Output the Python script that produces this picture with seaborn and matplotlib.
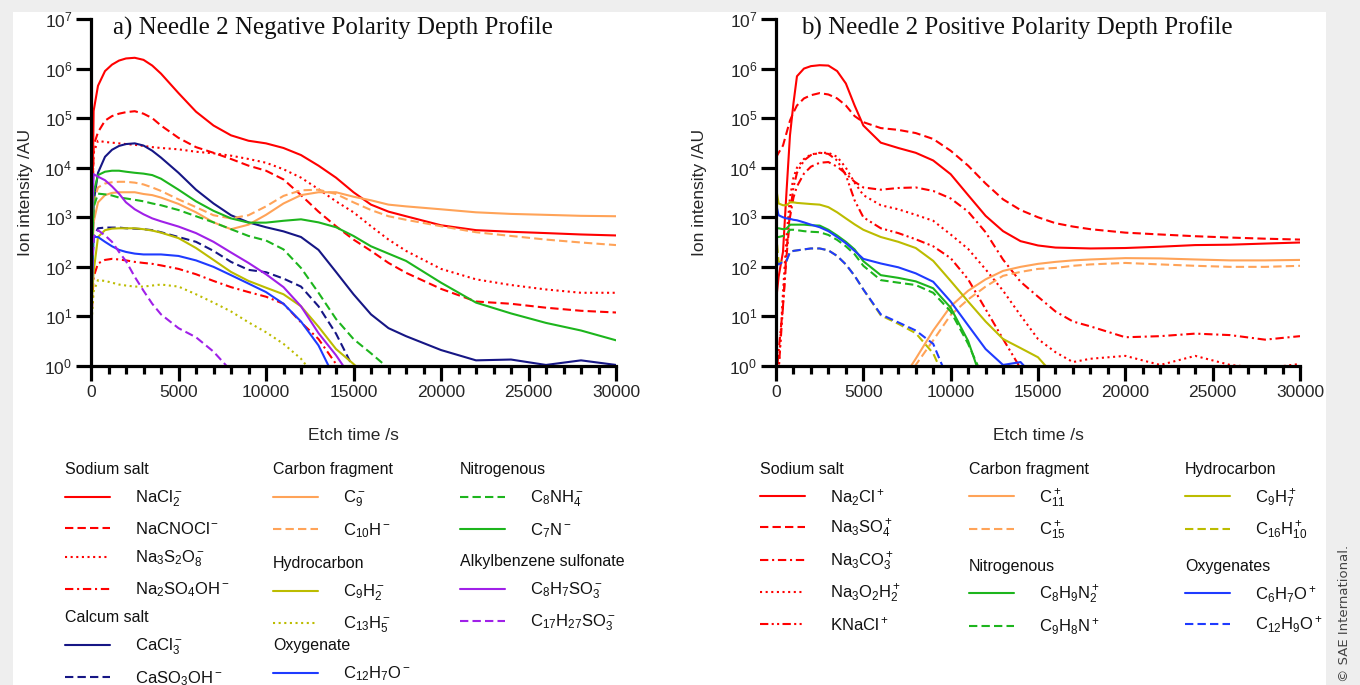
"""
Needle 2 ToF-SIMS depth profiles (negative / positive polarity).
"""
import numpy as np
import matplotlib
matplotlib.use("Agg")
import matplotlib.pyplot as plt
from matplotlib.patches import Rectangle
from matplotlib.ticker import MultipleLocator, NullLocator, LogLocator
import seaborn as sns

nan = np.nan

# ---------------- negative polarity (panel a) ----------------
T_NEG = [0, 150, 400, 800, 1200, 1600, 2000, 2500, 3000, 3500, 4000, 5000, 6000, 7000,
         8000, 9000, 10000, 11000, 12000, 13000, 14000, 15000, 16000, 17000, 18000,
         20000, 22000, 24000, 26000, 28000, 30000]

NACL2_NEG = [5, 1.4e5, 4.5e5, 8.9e5, 1.2e6, 1.45e6, 1.6e6, 1.65e6, 1.5e6, 1.15e6, 7.9e5,
             3.2e5, 1.35e5, 7.1e4, 4.5e4, 3.5e4, 3.1e4, 2.5e4, 1.8e4, 1.1e4, 6.3e3,
             3.2e3, 1.8e3, 1.3e3, 1.05e3, 690, 550, 510, 480, 450, 430]
NACNOCL_NEG = [10, 2.8e4, 5.2e4, 8.9e4, 1.1e5, 1.23e5, 1.32e5, 1.38e5, 1.23e5, 1.0e5, 7.1e4,
               4.0e4, 2.6e4, 2.0e4, 1.5e4, 1.1e4, 8.7e3, 5.8e3, 2.8e3, 1.3e3, 660,
               355, 210, 120, 76, 36, 20, 18, 15, 13, 12]
NA3S2O8_NEG = [300, 2.0e4, 3.5e4, 3.3e4, 3.2e4, 3.1e4, 3.0e4, 2.9e4, 2.75e4, 2.6e4, 2.5e4,
               2.35e4, 2.1e4, 1.95e4, 1.75e4, 1.5e4, 1.26e4, 9.3e3, 6.3e3, 3.7e3, 2.1e3,
               1.26e3, 660, 355, 210, 91, 56, 43, 35, 30, 30]
NA2SO4OH_NEG = [6, 63, 117, 138, 145, 141, 135, 126, 120, 115, 107,
                91, 71, 52, 39, 31, 25, 18, 7.6, 3.5, 1.1,
                0.3, nan, nan, nan, nan, nan, nan, nan, nan, nan]
CACL3_NEG = [6, 2.0e3, 7.9e3, 1.66e4, 2.3e4, 2.75e4, 3.0e4, 3.1e4, 2.8e4, 2.2e4, 1.6e4,
             7.9e3, 3.6e3, 1.9e3, 1.1e3, 790, 630, 520, 400, 220, 79,
             28, 11, 5.8, 4.0, 2.1, 1.3, 1.35, 1.05, 1.3, 1.05]
CASO3OH_NEG = [30, 400, 600, 620, 620, 620, 600, 590, 575, 550, 500,
               400, 320, 210, 126, 87, 78, 58, 40, 16, 4.5,
               0.9, nan, nan, nan, nan, nan, nan, nan, nan, nan]
C9_NEG = [30, 800, 2.0e3, 2.8e3, 3.1e3, 3.2e3, 3.2e3, 3.2e3, 2.95e3, 2.8e3, 2.5e3,
          1.86e3, 1.26e3, 790, 575, 710, 1.12e3, 1.9e3, 2.8e3, 3.2e3, 3.2e3,
          2.6e3, 2.2e3, 1.8e3, 1.66e3, 1.45e3, 1.26e3, 1.17e3, 1.12e3, 1.07e3, 1.05e3]
C10H_NEG = [100, 2.0e3, 4.0e3, 4.8e3, 5.1e3, 5.2e3, 5.2e3, 5.0e3, 4.6e3, 4.0e3, 3.4e3,
            2.3e3, 1.6e3, 1.1e3, 950, 1.1e3, 1.66e3, 2.7e3, 3.5e3, 3.6e3, 2.95e3,
            2.0e3, 1.4e3, 1.05e3, 890, 660, 500, 420, 355, 310, 275]
C9H2_NEG = [10, 80, 400, 550, 590, 600, 600, 600, 575, 540, 490,
            380, 240, 138, 79, 52, 38, 28, 16, 6.2, 2.2,
            1.1, 0.5, nan, nan, nan, nan, nan, nan, nan, nan]
C13H5_NEG = [5, 32, 54, 52, 48, 44, 42, 40, 40, 42, 44,
             40, 28, 19, 12.6, 7.6, 4.8, 2.8, 1.4, 0.5, nan,
             nan, nan, nan, nan, nan, nan, nan, nan, nan, nan]
C12H7O_NEG = [10, 400, 400, 320, 260, 220, 200, 185, 178, 178, 178,
              166, 135, 100, 68, 46, 31, 18, 7.9, 2.6, 0.5,
              nan, nan, nan, nan, nan, nan, nan, nan, nan, nan]
C8NH4_NEG = [30, 1.6e3, 3.0e3, 2.9e3, 2.75e3, 2.5e3, 2.4e3, 2.25e3, 2.1e3, 1.9e3, 1.75e3,
             1.4e3, 1.05e3, 790, 575, 420, 340, 225, 95, 30, 8.9,
             3.5, 1.8, 0.9, nan, nan, nan, nan, nan, nan, nan]
C7N_NEG = [10, 3.2e3, 7.1e3, 8.3e3, 8.7e3, 8.7e3, 8.3e3, 7.9e3, 7.6e3, 7.1e3, 6.0e3,
           3.6e3, 2.1e3, 1.35e3, 950, 780, 780, 850, 910, 790, 630,
           420, 260, 185, 132, 48, 19, 11.5, 7.4, 5.2, 3.3]
C8H7SO3_NEG = [300, 7.4e3, 6.6e3, 5.6e3, 4.2e3, 3.0e3, 2.0e3, 1.45e3, 1.15e3, 950, 830,
               650, 480, 320, 195, 120, 71, 39, 16, 4.6, 1.65,
               0.5, nan, nan, nan, nan, nan, nan, nan, nan, nan]
C17H27SO3_NEG = [30, 400, 550, 430, 320, 200, 130, 63, 33, 18, 11,
                 5.8, 3.8, 1.95, 0.8, nan, nan, nan, nan, nan, nan,
                 nan, nan, nan, nan, nan, nan, nan, nan, nan, nan]

# ---------------- positive polarity (panel b) ----------------
T_POS = [0, 150, 400, 600, 800, 1000, 1200, 1600, 2000, 2500, 3000, 3500, 4000, 4500,
         5000, 6000, 7000, 8000, 9000, 10000, 11000, 12000, 13000, 14000, 15000, 16000,
         17000, 18000, 20000, 22000, 24000, 26000, 28000, 30000]

NA2CL_POS = [20, 63, 200, 3.2e3, 4.5e4, 2.0e5, 7.0e5, 1.0e6, 1.12e6, 1.17e6, 1.15e6, 8.9e5,
             5.0e5, 1.8e5, 7.1e4, 3.2e4, 2.5e4, 2.0e4, 1.4e4, 7.4e3, 2.8e3, 1.07e3,
             525, 330, 270, 245, 240, 235, 240, 255, 275, 280, 295, 310]
NA3SO4_POS = [1.6e4, 2.0e4, 2.8e4, 5.0e4, 8.9e4, 1.3e5, 1.8e5, 2.5e5, 2.9e5, 3.2e5, 3.0e5,
              2.5e5, 1.8e5, 1.1e5, 8.3e4, 6.3e4, 5.8e4, 5.0e4, 3.8e4, 2.2e4, 1.1e4,
              4.8e3, 2.3e3, 1.4e3, 1.0e3, 760, 650, 575, 490, 450, 415, 390, 370, 355]
NA3CO3_POS = [0.5, 2, 16, 160, 1.0e3, 2.5e3, 4.2e3, 7.6e3, 1.05e4, 1.26e4, 1.3e4, 1.05e4,
              7.6e3, 5.2e3, 4.0e3, 3.6e3, 3.9e3, 4.0e3, 3.4e3, 2.4e3, 1.3e3, 500,
              140, 50, 25, 12.6, 7.9, 6.3, 3.8, 4.0, 4.5, 4.2, 3.4, 4.0]
NA3O2H2_POS = [0.5, 0.8, 30, 400, 2.5e3, 6.3e3, 1.0e4, 1.5e4, 1.85e4, 2.0e4, 2.0e4, 1.66e4,
               1.0e4, 5.0e3, 2.8e3, 1.75e3, 1.45e3, 1.12e3, 850, 450, 230, 89,
               33, 10.5, 3.5, 1.9, 1.2, 1.4, 1.6, 1.05, 1.6, 1.05, 0.9, 1.1]
KNACL_POS = [0.5, 0.8, 16, 200, 1.26e3, 4.0e3, 7.9e3, 1.4e4, 1.8e4, 2.0e4, 1.9e4, 1.4e4,
             7.1e3, 2.2e3, 1.0e3, 600, 480, 360, 260, 150, 56, 14,
             3.5, 0.9, nan, nan, nan, nan, nan, nan, nan, nan, nan, nan]
C11_POS = [nan, nan, nan, nan, nan, nan, nan, nan, nan, nan, nan, nan,
           nan, nan, nan, nan, 0.4, 1.4, 5.2, 16, 33, 56,
           83, 100, 115, 126, 135, 141, 150, 148, 141, 135, 135, 138]
C15_POS = [nan, nan, nan, nan, nan, nan, nan, nan, nan, nan, nan, nan,
           nan, nan, nan, nan, 0.2, 1.05, 3.3, 10.7, 22, 40,
           66, 79, 91, 95, 105, 112, 120, 112, 105, 100, 100, 105]
C8H9N2_POS = [590, 600, 575, 590, 710, 710, 710, 710, 690, 680, 560, 430,
              320, 225, 130, 68, 60, 51, 37, 15, 3.2, 0.3,
              nan, nan, nan, nan, nan, nan, nan, nan, nan, nan, nan, nan]
C9H8N_POS = [400, 400, 420, 450, 560, 560, 550, 525, 510, 500, 440, 350,
             260, 180, 105, 54, 48, 43, 30, 12.6, 2.8, 0.45,
             nan, nan, nan, nan, nan, nan, nan, nan, nan, nan, nan, nan]
C9H7_POS = [4.0e3, 1.9e3, 1.75e3, 1.75e3, 2.0e3, 2.0e3, 1.95e3, 1.9e3, 1.85e3, 1.8e3, 1.6e3,
            1.26e3, 950, 720, 560, 400, 320, 240, 132, 52, 20, 7.9,
            3.5, 2.3, 1.5, 0.6, nan, nan, nan, nan, nan, nan, nan, nan]
C16H10_POS = [500, 126, 126, 132, 200, 210, 215, 225, 235, 235, 215, 166,
              112, 66, 35, 10.5, 7.1, 4.6, 1.8, 0.3, nan, nan,
              nan, nan, nan, nan, nan, nan, nan, nan, nan, nan, nan, nan]
C6H7O_POS = [1.9e3, 1.1e3, 1.0e3, 950, 930, 890, 870, 790, 710, 630, 525, 400,
             300, 210, 145, 117, 98, 74, 50, 20, 6.6, 2.2,
             1.05, 1.2, 0.5, nan, nan, nan, nan, nan, nan, nan, nan, nan]
C12H9O_POS = [130, 112, 126, 132, 200, 210, 215, 225, 235, 235, 215, 166,
              112, 66, 35, 11, 7.6, 5.2, 2.8, 0.4, nan, nan,
              nan, nan, nan, nan, nan, nan, nan, nan, nan, nan, nan, nan]

# ---------------- styles ----------------
RED = "#ff0000"
NAVY = "#161685"
ORANGE = "#ffa358"
OLIVE = "#bcbc00"
BLUE = "#1f3bff"
GREEN = "#1db51d"
PURPLE = "#a020e8"

SOLID = "-"
DASH = (0, (4, 2))
DOT = (0, (1, 1.7))
DASHDOT = (0, (4, 1.8, 1, 1.8))
DASHDOTDOT = (0, (4, 1.6, 1, 1.6, 1, 1.6))

# legend groups: (header, entries, column x [fig px], header y [fig px])
NEG_GROUPS = [
    ("Sodium salt", [(r"NaCl$_2^-$", NACL2_NEG, RED, SOLID),
                     (r"NaCNOCl$^-$", NACNOCL_NEG, RED, DASH),
                     (r"Na$_3$S$_2$O$_8^-$", NA3S2O8_NEG, RED, DOT),
                     (r"Na$_2$SO$_4$OH$^-$", NA2SO4OH_NEG, RED, DASHDOT)], 65, 471),
    ("Calcum salt", [(r"CaCl$_3^-$", CACL3_NEG, NAVY, SOLID),
                     (r"CaSO$_3$OH$^-$", CASO3OH_NEG, NAVY, DASH)], 65, 619),
    ("Carbon fragment", [(r"C$_9^-$", C9_NEG, ORANGE, SOLID),
                         (r"C$_{10}$H$^-$", C10H_NEG, ORANGE, DASH)], 273, 471),
    ("Hydrocarbon", [(r"C$_9$H$_2^-$", C9H2_NEG, OLIVE, SOLID),
                     (r"C$_{13}$H$_5^-$", C13H5_NEG, OLIVE, DOT)], 273, 565),
    ("Oxygenate", [(r"C$_{12}$H$_7$O$^-$", C12H7O_NEG, BLUE, SOLID)], 273, 647),
    ("Nitrogenous", [(r"C$_8$NH$_4^-$", C8NH4_NEG, GREEN, DASH),
                     (r"C$_7$N$^-$", C7N_NEG, GREEN, SOLID)], 460, 471),
    ("Alkylbenzene sulfonate", [(r"C$_8$H$_7$SO$_3^-$", C8H7SO3_NEG, PURPLE, SOLID),
                                (r"C$_{17}$H$_{27}$SO$_3^-$", C17H27SO3_NEG, PURPLE, DASH)], 460, 563),
]

POS_GROUPS = [
    ("Sodium salt", [(r"Na$_2$Cl$^+$", NA2CL_POS, RED, SOLID),
                     (r"Na$_3$SO$_4^+$", NA3SO4_POS, RED, DASH),
                     (r"Na$_3$CO$_3^+$", NA3CO3_POS, RED, DASHDOT),
                     (r"Na$_3$O$_2$H$_2^+$", NA3O2H2_POS, RED, DOT),
                     (r"KNaCl$^+$", KNACL_POS, RED, DASHDOTDOT)], 760, 471),
    ("Carbon fragment", [(r"C$_{11}^+$", C11_POS, ORANGE, SOLID),
                         (r"C$_{15}^+$", C15_POS, ORANGE, DASH)], 969, 471),
    ("Nitrogenous", [(r"C$_8$H$_9$N$_2^+$", C8H9N2_POS, GREEN, SOLID),
                     (r"C$_9$H$_8$N$^+$", C9H8N_POS, GREEN, DASH)], 969, 568),
    ("Hydrocarbon", [(r"C$_9$H$_7^+$", C9H7_POS, OLIVE, SOLID),
                     (r"C$_{16}$H$_{10}^+$", C16H10_POS, OLIVE, DASH)], 1185, 471),
    ("Oxygenates", [(r"C$_6$H$_7$O$^+$", C6H7O_POS, BLUE, SOLID),
                    (r"C$_{12}$H$_9$O$^+$", C12H9O_POS, BLUE, DASH)], 1185, 568),
]

W, H = 1360, 685

sns.set_style("ticks")
plt.rcParams["font.family"] = ["Liberation Sans", "DejaVu Sans"]
plt.rcParams["mathtext.fontset"] = "custom"
plt.rcParams["mathtext.rm"] = "Liberation Sans"
plt.rcParams["mathtext.it"] = "Liberation Sans:italic"
plt.rcParams["mathtext.bf"] = "Liberation Sans:bold"
plt.rcParams["text.color"] = "#111111"


def draw_panel(fig, rect, t, groups, title, title_x, ylabel_x, spacing):
    ax = fig.add_axes(rect)
    handles = {}
    for _, entries, _, _ in groups:
        for label, vals, color, dash in entries:
            sns.lineplot(x=t, y=vals, ax=ax, color=color, linewidth=1.5,
                         linestyle=dash, estimator=None, errorbar=None)
            handles[label] = ax.lines[-1]

    ax.set_yscale("log")
    ax.set_xlim(0, 30000)
    ax.set_ylim(1, 1e7)
    ax.xaxis.set_major_locator(MultipleLocator(5000))
    ax.xaxis.set_minor_locator(MultipleLocator(1000))
    ax.yaxis.set_major_locator(LogLocator(base=10, numticks=10))
    ax.yaxis.set_minor_locator(NullLocator())

    sns.despine(ax=ax)
    for side in ["left", "bottom"]:
        ax.spines[side].set_linewidth(2.3)
        ax.spines[side].set_color("black")
    ax.tick_params(which="major", length=10.5, width=2.3, labelsize=12.5, color="black", pad=3)
    ax.tick_params(axis="x", which="minor", length=5.5, width=2.3, color="black")

    ax.set_xlabel("Etch time /s", fontsize=12.5)
    ax.set_ylabel("Ion intensity /AU", fontsize=12.5)
    ax.xaxis.set_label_coords(0.5, -0.178)
    ax.yaxis.set_label_coords(ylabel_x, 0.5)

    ax.text(title_x, 0.974, title, transform=ax.transAxes, ha="left", va="center",
            fontsize=18, family=["Liberation Serif", "DejaVu Serif"], color="#111111")

    # grouped legends below the panel
    for header, entries, gx, gy in groups:
        fig.legend(handles=[handles[e[0]] for e in entries], labels=[e[0] for e in entries],
                   title=header, loc="upper left",
                   bbox_to_anchor=(gx / W, 1 - (gy - 9) / H), bbox_transform=fig.transFigure,
                   frameon=False, fontsize=12, title_fontsize=11.5, handlelength=2.7,
                   handletextpad=1.5, labelspacing=spacing, borderpad=0, borderaxespad=0,
                   alignment="left")
    return ax


fig = plt.figure(figsize=(W / 100, H / 100), dpi=100)
fig.set_facecolor("#eeeeee")
fig.patches.append(Rectangle((13 / W, 0), (1326 - 13) / W, (H - 12) / H,
                             transform=fig.transFigure, facecolor="white",
                             edgecolor="none", zorder=-10))

draw_panel(fig, [91 / W, 1 - 366 / H, 525 / W, 347 / H], T_NEG, NEG_GROUPS,
           "a) Needle 2 Negative Polarity Depth Profile", 0.042, -0.11, 0.7)
draw_panel(fig, [776 / W, 1 - 366 / H, 524 / W, 347 / H], T_POS, POS_GROUPS,
           "b) Needle 2 Positive Polarity Depth Profile", 0.048, -0.132, 0.6)

fig.text(1345 / W, 3 / H, "\u00a9 SAE International.", rotation=90, ha="center", va="bottom",
         fontsize=9.5, color="#444444", family=["DejaVu Sans"])

fig.savefig("out.png", dpi=100, facecolor=fig.get_facecolor())
plt.close(fig)
